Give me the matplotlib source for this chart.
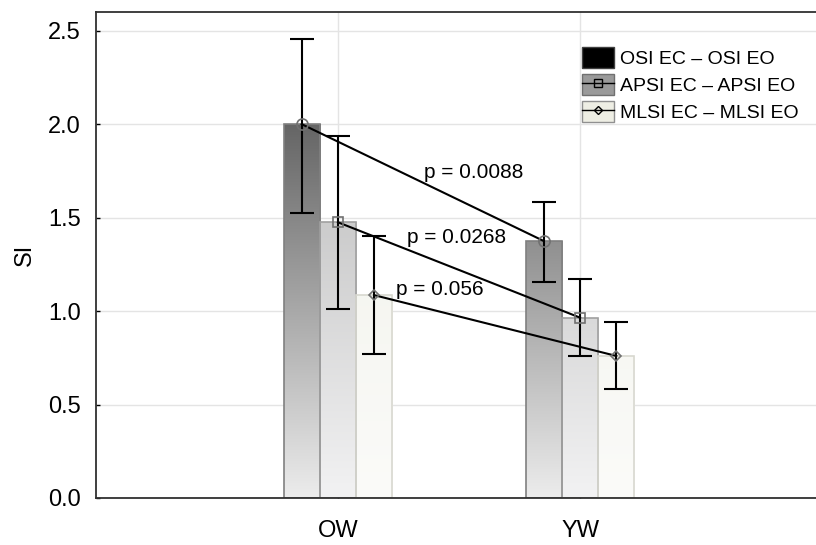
import numpy as np
import matplotlib
matplotlib.use('Agg')
from matplotlib import pyplot as plt
from matplotlib.colors import LinearSegmentedColormap
from matplotlib.patches import Patch
from matplotlib.lines import Line2D

plt.rcParams['font.family'] = ['Liberation Sans', 'DejaVu Sans']

# data
groups = ['OW', 'YW']
series = ['OSI EC – OSI EO', 'APSI EC – APSI EO', 'MLSI EC – MLSI EO']
means = [[2.00, 1.375],
         [1.475, 0.965],
         [1.085, 0.76]]
err_hi = [[2.455, 1.585],
          [1.935, 1.17],
          [1.40, 0.94]]
err_lo = [[1.525, 1.155],
          [1.01, 0.76],
          [0.77, 0.585]]
p_labels = ['p = 0.0088', 'p = 0.0268', 'p = 0.056']
p_pos = [(0.56, 1.74), (0.49, 1.395), (0.42, 1.115)]

# styles
grad_bottom = ['#ececec', '#f2f2f3', '#fbfbf9']
grad_top = ['#626262', '#bdbdbd', '#f1f2ea']
edge_cols = ['#808080', '#a0a0a0', '#d8d8d0']
legend_cols = ['#000000', '#9a9a9a', '#eeeee4']
markers = ['o', 's', 'D']
msizes = [8, 7.5, 5]
width = 0.15
offsets = [-0.15, 0.0, 0.15]

fig = plt.figure(figsize=(8.16, 5.45), dpi=100)
ax = fig.add_axes([96 / 816, 47 / 545, 726 / 816, 486 / 545])

x = np.arange(len(groups))
grad = np.linspace(0, 1, 256).reshape(-1, 1)
for i in range(3):
    cmap = LinearSegmentedColormap.from_list('g%d' % i, [grad_bottom[i], grad_top[i]])
    xs = x + offsets[i]
    bars = ax.bar(xs, means[i], width, color='none', edgecolor=edge_cols[i],
                  linewidth=1.2, zorder=2)
    # vertical gradient fill, clipped to each bar
    for b in bars:
        im = ax.imshow(grad, cmap=cmap, origin='lower', aspect='auto',
                       extent=[b.get_x(), b.get_x() + b.get_width(), 0, 2.05],
                       zorder=1.5)
        im.set_clip_path(b)
    yerr = [np.array(means[i]) - np.array(err_lo[i]),
            np.array(err_hi[i]) - np.array(means[i])]
    ax.errorbar(xs, means[i], yerr=yerr, fmt='none', ecolor='black',
                elinewidth=1.5, capsize=8.5, capthick=1.5, zorder=4)
    ax.plot(xs, means[i], color='black', lw=1.5, zorder=5)
    ax.plot(xs, means[i], linestyle='none', marker=markers[i], ms=msizes[i],
            mfc='none', mec='#707070', mew=1.2, zorder=6)

ax.set_xlim(-1, 2)
ax.set_ylim(0, 2.6)

for lab, (px, py) in zip(p_labels, p_pos):
    ax.text(px, py, lab, ha='center', va='center', fontsize=15, zorder=7)

ax.set_xticks(x)
ax.set_xticklabels(groups)
ax.set_yticks(np.arange(0, 2.51, 0.5))
ax.set_yticklabels(['%.1f' % v for v in np.arange(0, 2.51, 0.5)])
ax.tick_params(axis='both', direction='in', length=3, width=1, labelsize=17)
ax.tick_params(axis='y', pad=11)
ax.tick_params(axis='x', pad=16)
ax.grid(True, color='#e4e4e4', linewidth=1, zorder=0)
ax.set_axisbelow(True)
for s in ax.spines.values():
    s.set_color('#303030')
    s.set_linewidth(1.3)
ax.set_ylabel('SI', fontsize=17, labelpad=9)

handles = [
    Patch(facecolor=legend_cols[0], edgecolor='#404040'),
    (Patch(facecolor=legend_cols[1], edgecolor='#707070'),
     Line2D([], [], color='black', lw=1, marker='s', ms=6, mfc='none', mec='black')),
    (Patch(facecolor=legend_cols[2], edgecolor='#909090'),
     Line2D([], [], color='black', lw=1, marker='D', ms=4, mfc='none', mec='black')),
]
ax.legend(handles, series, loc='upper left', bbox_to_anchor=(0.659, 0.944),
          frameon=False, fontsize=14, handlelength=1.65, handleheight=1.3,
          handletextpad=0.3, labelspacing=0.3, borderaxespad=0)

fig.savefig('out.png', dpi=100)
